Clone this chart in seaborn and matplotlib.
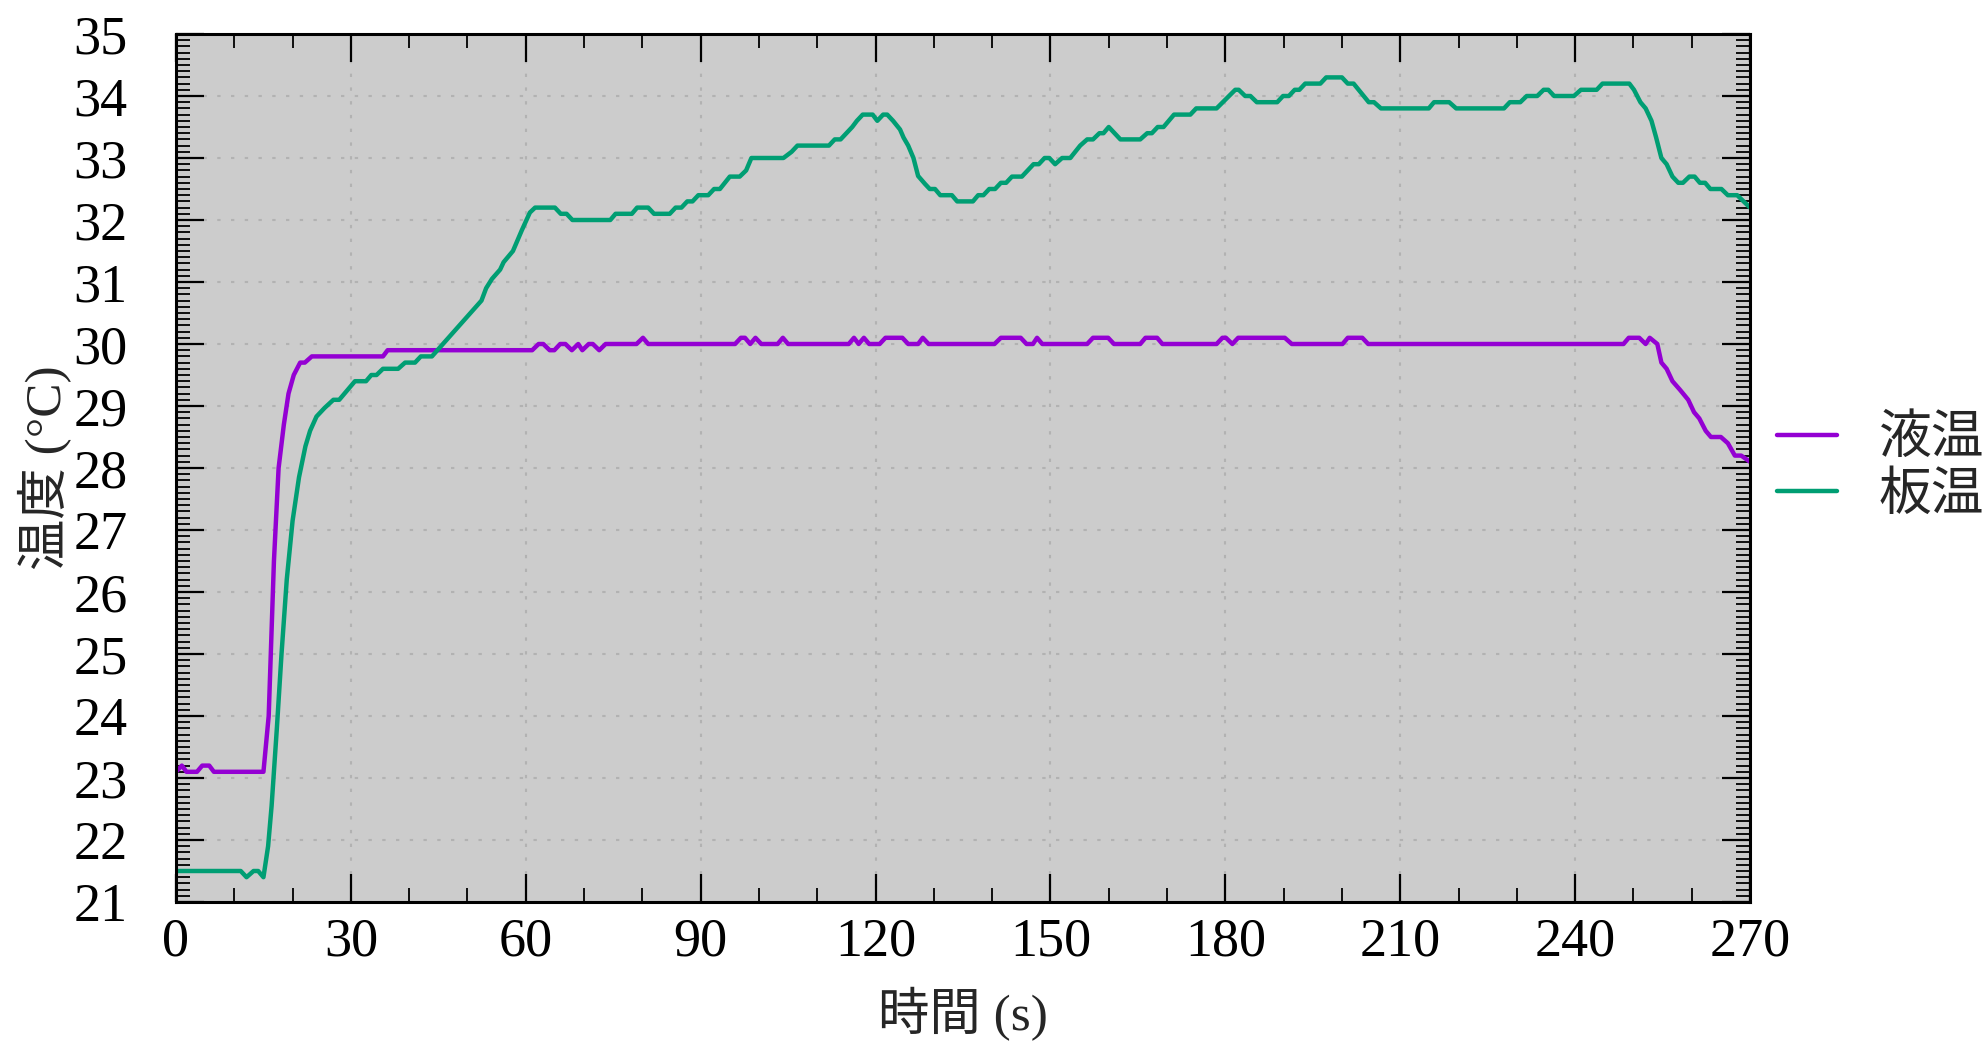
import numpy as np
import pandas as pd
import matplotlib
matplotlib.use("Agg")
import matplotlib.pyplot as plt
from matplotlib.ticker import MultipleLocator
import seaborn as sns

# ---- data: time (s) / temperature (°C) vertices of each logged series ----
liquid_time = [0, 1, 1.8, 3.6, 4.5, 5.7, 6.5, 15.0, 15.9, 16.8, 17.6, 18.5, 19.3, 20.2,
               21.3, 22.1, 23.3, 35.5, 36.3, 61.1, 62.2, 63.0, 64.1, 64.9, 65.9, 66.8,
               67.9, 69.0, 69.7, 70.8, 71.5, 72.6, 73.7, 79.0, 80.1, 81.0, 95.9, 96.9,
               97.6, 98.5, 99.4, 100.4, 103.2, 104.1, 105.0, 115.4, 116.3, 117.1, 118.0,
               118.9, 120.7, 121.7, 124.6, 125.6, 127.3, 128.1, 129.1, 140.4, 141.5,
               144.9, 145.9, 147.0, 147.7, 148.6, 156.3, 157.3, 159.9, 160.9, 165.4,
               166.3, 168.3, 169.2, 178.5, 179.5, 180.1, 181.2, 182.2, 190.2, 191.4,
               200.1, 201.0, 203.5, 204.5, 248.3, 249.2, 251.0, 252.1, 252.8, 254.1,
               254.8, 255.7, 256.7, 258.0, 259.4, 260.4, 261.3, 262.4, 263.3, 265.0,
               266.2, 267.4, 268.5, 270.0]
liquid_temp = [23.1, 23.2, 23.1, 23.1, 23.2, 23.2, 23.1, 23.1, 24.0, 26.5, 28.0, 28.7, 29.2,
               29.5, 29.7, 29.7, 29.8, 29.8, 29.9, 29.9, 30.0, 30.0, 29.9, 29.9, 30.0, 30.0,
               29.9, 30.0, 29.9, 30.0, 30.0, 29.9, 30.0, 30.0, 30.1, 30.0, 30.0, 30.1,
               30.1, 30.0, 30.1, 30.0, 30.0, 30.1, 30.0, 30.0, 30.1, 30.0, 30.1,
               30.0, 30.0, 30.1, 30.1, 30.0, 30.0, 30.1, 30.0, 30.0, 30.1,
               30.1, 30.0, 30.0, 30.1, 30.0, 30.0, 30.1, 30.1, 30.0, 30.0,
               30.1, 30.1, 30.0, 30.0, 30.1, 30.1, 30.0, 30.1, 30.1, 30.0,
               30.0, 30.1, 30.1, 30.0, 30.0, 30.1, 30.1, 30.0, 30.1, 30.0,
               29.7, 29.6, 29.4, 29.26, 29.1, 28.9, 28.8, 28.6, 28.5, 28.5,
               28.4, 28.2, 28.2, 28.1]

plate_time = [0, 11.1, 12.1, 13.3, 14.1, 15.0, 15.8, 16.4, 17.3, 18.1, 19.0, 20.0, 21.1,
              22.2, 23.0, 24.1, 25.5, 27.0, 28.0, 30.7, 32.6, 33.5, 34.4, 35.5, 38.1,
              39.3, 41.0, 42.0, 43.9, 52.4, 53.2, 54.2, 55.6, 56.2, 57.8, 59.3, 60.7,
              61.6, 65.0, 66.0, 67.0, 68.0, 74.5, 75.4, 78.2, 79.1, 81.0, 82.0, 84.7,
              85.7, 86.7, 87.7, 88.6, 89.6, 91.3, 92.3, 93.3, 95.0, 96.7, 97.8, 98.7,
              104.2, 105.6, 106.6, 112.0, 113.0, 114.0, 115.0, 116.0, 116.8, 117.8,
              119.5, 120.3, 121.3, 122.0, 123.0, 124.2, 124.8, 125.6, 126.5, 127.3,
              128.5, 129.3, 130.2, 131.1, 133.1, 134.0, 136.7, 137.6, 138.5, 139.5,
              140.5, 141.5, 142.4, 143.4, 145.1, 147.1, 148.0, 149.0, 149.8, 150.8,
              152.0, 153.4, 155.1, 156.3, 157.3, 158.4, 159.1, 160.0, 162.0, 165.4,
              166.6, 167.4, 168.4, 169.4, 171.2, 174.0, 175.0, 178.5, 181.7, 182.3,
              183.4, 184.3, 185.4, 188.9, 189.9, 190.9, 191.9, 192.7, 193.7, 196.3,
              197.3, 200.0, 201.0, 202.0, 204.6, 205.5, 206.7, 214.9, 215.8, 218.4,
              219.6, 227.8, 228.8, 230.6, 231.7, 233.5, 234.6, 235.4, 236.4, 239.8,
              241.0, 243.7, 244.7, 249.3, 250.1, 251.2, 252.1, 253.1, 253.9, 254.8,
              255.7, 256.7, 257.7, 258.5, 259.6, 260.5, 261.4, 262.3, 263.2, 265.1,
              266.2, 267.8, 270.0]
plate_temp = [21.5, 21.5, 21.4, 21.5, 21.5, 21.4, 21.9, 22.55, 23.8, 25.0, 26.2, 27.15, 27.85,
              28.35, 28.6, 28.83, 28.97, 29.1, 29.1, 29.4, 29.4, 29.5, 29.5, 29.6, 29.6,
              29.7, 29.7, 29.8, 29.8, 30.7, 30.9, 31.05, 31.2, 31.32, 31.5, 31.83, 32.12,
              32.2, 32.2, 32.1, 32.1, 32.0, 32.0, 32.1, 32.1, 32.2, 32.2, 32.1, 32.1,
              32.2, 32.2, 32.3, 32.3, 32.4, 32.4, 32.5, 32.5, 32.7, 32.7, 32.8, 33.0,
              33.0, 33.1, 33.2, 33.2, 33.3, 33.3, 33.4, 33.5, 33.6, 33.7,
              33.7, 33.6, 33.7, 33.7, 33.6, 33.46, 33.33, 33.2, 33.0, 32.71,
              32.58, 32.5, 32.5, 32.4, 32.4, 32.3, 32.3, 32.4, 32.4, 32.5,
              32.5, 32.6, 32.6, 32.7, 32.7, 32.9, 32.9, 33.0, 33.0, 32.9,
              33.0, 33.0, 33.2, 33.3, 33.3, 33.4, 33.4, 33.5, 33.3, 33.3,
              33.4, 33.4, 33.5, 33.5, 33.7, 33.7, 33.8, 33.8, 34.1, 34.1,
              34.0, 34.0, 33.9, 33.9, 34.0, 34.0, 34.1, 34.1, 34.2, 34.2,
              34.3, 34.3, 34.2, 34.2, 33.9, 33.9, 33.8, 33.8, 33.9, 33.9,
              33.8, 33.8, 33.9, 33.9, 34.0, 34.0, 34.1, 34.1, 34.0, 34.0,
              34.1, 34.1, 34.2, 34.2, 34.1, 33.9, 33.8, 33.6, 33.33, 33.0,
              32.9, 32.7, 32.6, 32.6, 32.7, 32.7, 32.6, 32.6, 32.5, 32.5,
              32.4, 32.4, 32.2]

series_names = ["液温", "板温"]
series_colors = ["#9400d3", "#009e73"]

x_ticks = list(range(0, 271, 30))
y_ticks = list(range(21, 36))

df = pd.concat([
    pd.DataFrame({"time": liquid_time, "temp": liquid_temp, "series": series_names[0]}),
    pd.DataFrame({"time": plate_time, "temp": plate_temp, "series": series_names[1]}),
], ignore_index=True)

# ---- style ----
sns.set_style("ticks")
plt.rcParams["font.family"] = ["Liberation Serif", "Noto Sans CJK JP"]
plt.rcParams["axes.unicode_minus"] = False

W, H = 1987, 1042
fig = plt.figure(figsize=(W / 100, H / 100), dpi=100)
ax = fig.add_axes([176 / W, 1 - 902 / H, (1750 - 176) / W, (902 - 34) / H])
ax.set_facecolor("#cccccc")

sns.lineplot(data=df, x="time", y="temp", hue="series", hue_order=series_names,
             palette=series_colors, estimator=None, sort=False, linewidth=3.2,
             ax=ax)

ax.set_xlim(0, 270)
ax.set_ylim(21, 35)
ax.set_xticks(x_ticks)
ax.set_yticks(y_ticks)
ax.xaxis.set_minor_locator(MultipleLocator(10))
ax.yaxis.set_minor_locator(MultipleLocator(0.1))

ax.grid(True, which="major", color="#b2b2b2", linestyle=(0, (1.6, 5.0)), linewidth=1.5)
ax.set_axisbelow(True)

for s in ax.spines.values():
    s.set_visible(True)
    s.set_color("black")
    s.set_linewidth(2.2)

ax.tick_params(which="both", direction="in", top=True, right=True, colors="black")
ax.tick_params(which="major", length=20, width=1.6, labelsize=39)
ax.tick_params(which="minor", length=10, width=1.3)
ax.tick_params(axis="x", which="major", pad=11)
ax.tick_params(axis="y", which="major", pad=35)

ax.set_xlabel("時間 (s)", fontsize=37, va="center")
ax.set_ylabel("温度 (°C)", fontsize=37, va="center")
ax.xaxis.set_label_coords(0.5, -0.129)
ax.yaxis.set_label_coords(-0.0839, 0.5)

ax.legend(loc="center left", bbox_to_anchor=(1.0, 0.5), frameon=False,
          fontsize=38, borderaxespad=0.52, borderpad=0, handlelength=1.12,
          handletextpad=0.8, labelspacing=0.15)

fig.savefig("out.png", dpi=100)
